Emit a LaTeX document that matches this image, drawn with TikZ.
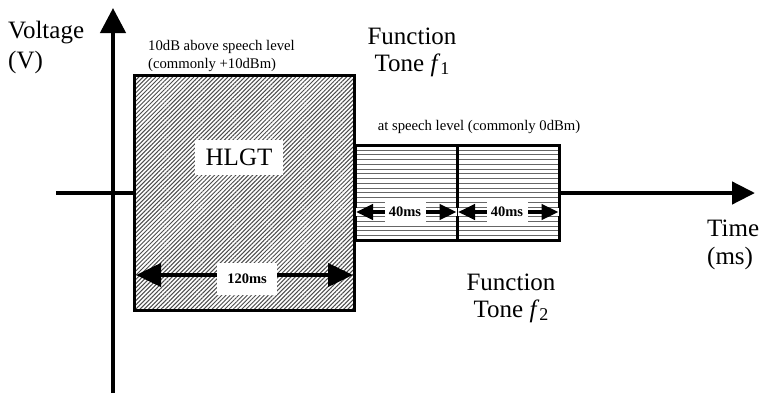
\documentclass[tikz,border=0pt]{standalone}
\usepackage{fontspec}
\setmainfont{Liberation Serif}
\usetikzlibrary{arrows.meta,patterns.meta,calc}
\newcommand\tonesub[1]{\textit{f}\raisebox{-2.5pt}{\fontsize{18}{18}\selectfont #1}}
\begin{document}
\begin{tikzpicture}[x=1pt,y=-1pt,
  axis/.style={line width=4.5pt},
  big/.style={font=\fontsize{25}{27}\selectfont, inner sep=0pt},
  small/.style={font=\fontsize{14.7}{18}\selectfont, inner sep=0pt},
  mslabel/.style={font=\bfseries\fontsize{14.5}{16}\selectfont, fill=white, inner sep=0pt},
  hatchbox/.style={draw=black, line width=2.6pt, inner sep=0pt, anchor=north west,
    preaction={fill=white},
    pattern={Lines[angle=45,distance=3pt,line width=1pt]}, pattern color=black!70},
  linebox/.style={draw=black, line width=2.6pt, inner sep=0pt, anchor=north west,
    fill=white,
    path picture={
      \foreach \k in {1,...,19}
        \draw[black!60, line width=0.9pt]
          ($(path picture bounding box.north west)+(0,\k*4.75)$) -- ++(110,0);
    }},
  dimbig/.style={line width=4pt, {Triangle[length=25pt,width=23pt]}-{Triangle[length=25pt,width=23pt]}},
  dimsmall/.style={line width=4pt, {Triangle[length=17pt,width=15pt]}-{Triangle[length=17pt,width=15pt]},
    preaction={draw=white, line width=8pt, -}},
]
\useasboundingbox (0,0) rectangle (766,394);

% axes
\coordinate (xs) at (56,193);
\coordinate (xe) at (755,193);
\coordinate (ys) at (113,393);
\coordinate (ye) at (113,8);
\draw[axis, -{Triangle[length=23pt,width=22pt]}] (xs) -- (xe);
\draw[axis, -{Triangle[length=25pt,width=25pt]}] (ys) -- (ye);

% boxes
\node[hatchbox, minimum width=220pt, minimum height=235pt] (hl) at (134,75) {};
\node[linebox, minimum width=102pt, minimum height=95pt] (t1) at (354,144) {};
\node[linebox, minimum width=102pt, minimum height=95pt] (t2) at (456,144) {};

% HLGT label
\node[big, fill=white, minimum width=88pt, minimum height=35pt] (hlgt) at (239,157) {HLGT};

% 120ms
\coordinate (c120) at (247,275);
\draw[dimbig] ($(hl.west |- c120)+(2,0)$) -- ($(hl.east |- c120)+(-2,0)$);
\node[mslabel, minimum width=60pt, minimum height=32pt] (l120) at (247,279) {120ms};

% 40ms
\coordinate (c40a) at (405,212);
\coordinate (c40b) at (507,212);
\draw[dimsmall] ($(t1.west |- c40a)+(2,0)$) -- ($(t1.east |- c40a)+(-2,0)$);
\draw[dimsmall] ($(t2.west |- c40b)+(2,0)$) -- ($(t2.east |- c40b)+(-2,0)$);
\node[mslabel, minimum width=41pt, minimum height=28pt] (l40a) at (c40a) {40ms};
\node[mslabel, minimum width=41pt, minimum height=28pt] (l40b) at (c40b) {40ms};

% texts
\node[big, align=left, anchor=north west, font=\fontsize{25}{30}\selectfont] (volt) at (8,21) {Voltage\\(V)};
\node[small, align=left, anchor=north west] (note1) at (148,40) {10dB above speech level\\(commonly +10dBm)};
\node[big, align=center, anchor=north] (func1) at (412,28) {Function\\Tone \tonesub{1}};
\node[small, anchor=base] (note2) at (479,130) {at speech level (commonly 0dBm)};
\node[big, align=left, anchor=north west, font=\fontsize{25}{28}\selectfont] (time) at (707,219.5) {Time\\(ms)};
\node[big, align=center, anchor=north] (func2) at (511,274) {Function\\Tone \tonesub{2}};
\end{tikzpicture}
\end{document}
